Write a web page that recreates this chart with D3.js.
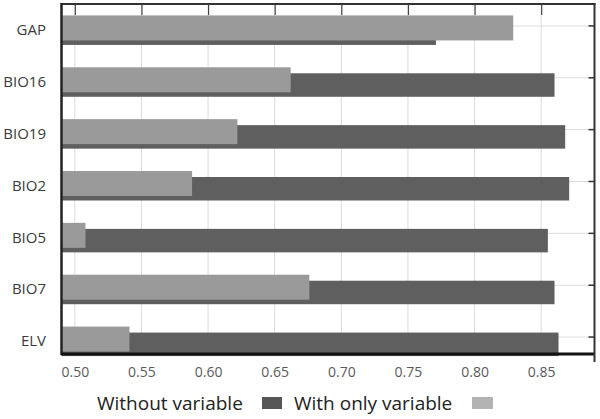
<!DOCTYPE html>
<html>
<head>
<meta charset="utf-8">
<script src="https://cdn.jsdelivr.net/npm/d3@7"></script>
<style>
  body { margin: 0; background: #fff; }
  svg { display: block; font-family: "Open Sans", sans-serif; }
</style>
</head>
<body>
<div id="chart"></div>
<script>
// Data
const categories = ["GAP", "BIO16", "BIO19", "BIO2", "BIO5", "BIO7", "ELV"];
const withoutVariable = [0.771, 0.860, 0.868, 0.871, 0.855, 0.860, 0.863];
const withOnlyVariable = [0.829, 0.662, 0.622, 0.588, 0.508, 0.676, 0.541];
const tickValues = [0.50, 0.55, 0.60, 0.65, 0.70, 0.75, 0.80, 0.85];
const seriesNames = ["Without variable", "With only variable"];

const width = 600, height = 419;
const plotLeft = 61.5, plotRight = 594.5, plotTop = 4, plotBottom = 354;

const darkColor = "#5f5f5f";
const lightColor = "#9a9a9a";

const svg = d3.select("#chart").append("svg")
    .attr("width", width)
    .attr("height", height);

const x = d3.scaleLinear().domain([0.49, 0.89]).range([plotLeft, plotRight]);
const y = d3.scaleBand().domain(categories).range([0, 363]);
const mid = c => y(c) + y.bandwidth() / 2;

const rows = categories.map((c, i) => ({
  cat: c, without: withoutVariable[i], only: withOnlyVariable[i]
}));

// vertical gridlines
svg.append("g").selectAll("line")
    .data(tickValues)
    .join("line")
    .attr("x1", d => x(d)).attr("x2", d => x(d))
    .attr("y1", plotTop).attr("y2", plotBottom)
    .attr("stroke", "#dcdcdc").attr("stroke-width", 1);

// horizontal gridlines at categories
svg.append("g").selectAll("line")
    .data(categories)
    .join("line")
    .attr("x1", plotLeft).attr("x2", plotRight)
    .attr("y1", d => mid(d)).attr("y2", d => mid(d))
    .attr("stroke", "#dcdcdc").attr("stroke-width", 1);

// dark bars (without variable), sit lower
svg.append("g").selectAll("rect")
    .data(rows)
    .join("rect")
    .attr("x", plotLeft)
    .attr("y", d => mid(d.cat) - 4.5)
    .attr("width", d => x(d.without) - plotLeft)
    .attr("height", 23.5)
    .attr("fill", darkColor);

// light bars (with only variable), drawn on top, sit higher
svg.append("g").selectAll("rect")
    .data(rows)
    .join("rect")
    .attr("x", plotLeft)
    .attr("y", d => mid(d.cat) - 10.5)
    .attr("width", d => x(d.only) - plotLeft)
    .attr("height", 25)
    .attr("fill", lightColor);

// top axis with short inward ticks
const topAxis = svg.append("g")
    .attr("transform", `translate(0,${plotTop})`)
    .call(d3.axisBottom(x).tickValues(tickValues).tickSize(11).tickFormat(""));
topAxis.select(".domain").remove();
topAxis.selectAll("line").attr("stroke", "#444").attr("stroke-width", 1.2);

// right axis with inward ticks
const rightAxis = svg.append("g")
    .attr("transform", `translate(${plotRight},0)`)
    .call(d3.axisLeft(y).tickSize(6).tickFormat(""));
rightAxis.select(".domain").remove();
rightAxis.selectAll("line").attr("stroke", "#333").attr("stroke-width", 1.5);

// bottom tick labels
const bottomAxis = svg.append("g")
    .attr("transform", `translate(0,${plotBottom})`)
    .call(d3.axisBottom(x).tickValues(tickValues).tickSize(0).tickPadding(13).tickFormat(d3.format(".2f")));
bottomAxis.select(".domain").remove();
bottomAxis.selectAll("text")
    .attr("font-family", "Open Sans, sans-serif")
    .attr("font-size", 14)
    .attr("fill", "#5a5a5a");

// category labels
svg.append("g").selectAll("text")
    .data(categories)
    .join("text")
    .attr("x", 46)
    .attr("y", d => mid(d) + 4)
    .attr("dy", "0.35em")
    .attr("text-anchor", "end")
    .attr("font-size", 15)
    .attr("fill", "#3a3a3a")
    .text(d => d);

// frame
svg.append("line").attr("x1", plotLeft).attr("x2", plotRight + 1).attr("y1", plotTop).attr("y2", plotTop)
    .attr("stroke", "#333").attr("stroke-width", 2);
svg.append("line").attr("x1", plotLeft).attr("x2", plotLeft).attr("y1", plotTop - 1).attr("y2", plotBottom + 1)
    .attr("stroke", "#222").attr("stroke-width", 2.5);
svg.append("line").attr("x1", plotLeft).attr("x2", plotRight).attr("y1", plotBottom).attr("y2", plotBottom)
    .attr("stroke", "#111").attr("stroke-width", 3);
svg.append("line").attr("x1", plotRight).attr("x2", plotRight).attr("y1", plotTop - 1).attr("y2", 362)
    .attr("stroke", "#333").attr("stroke-width", 2);

// legend
const legend = svg.append("g").attr("font-size", 19).attr("fill", "#222");
legend.append("text").attr("x", 97).attr("y", 410).text(seriesNames[0]);
legend.append("rect").attr("x", 262).attr("y", 397).attr("width", 20).attr("height", 12).attr("fill", "#575757");
legend.append("text").attr("x", 294).attr("y", 410).text(seriesNames[1]);
legend.append("rect").attr("x", 472).attr("y", 397).attr("width", 21).attr("height", 12).attr("fill", "#b3b3b3");
</script>
</body>
</html>
